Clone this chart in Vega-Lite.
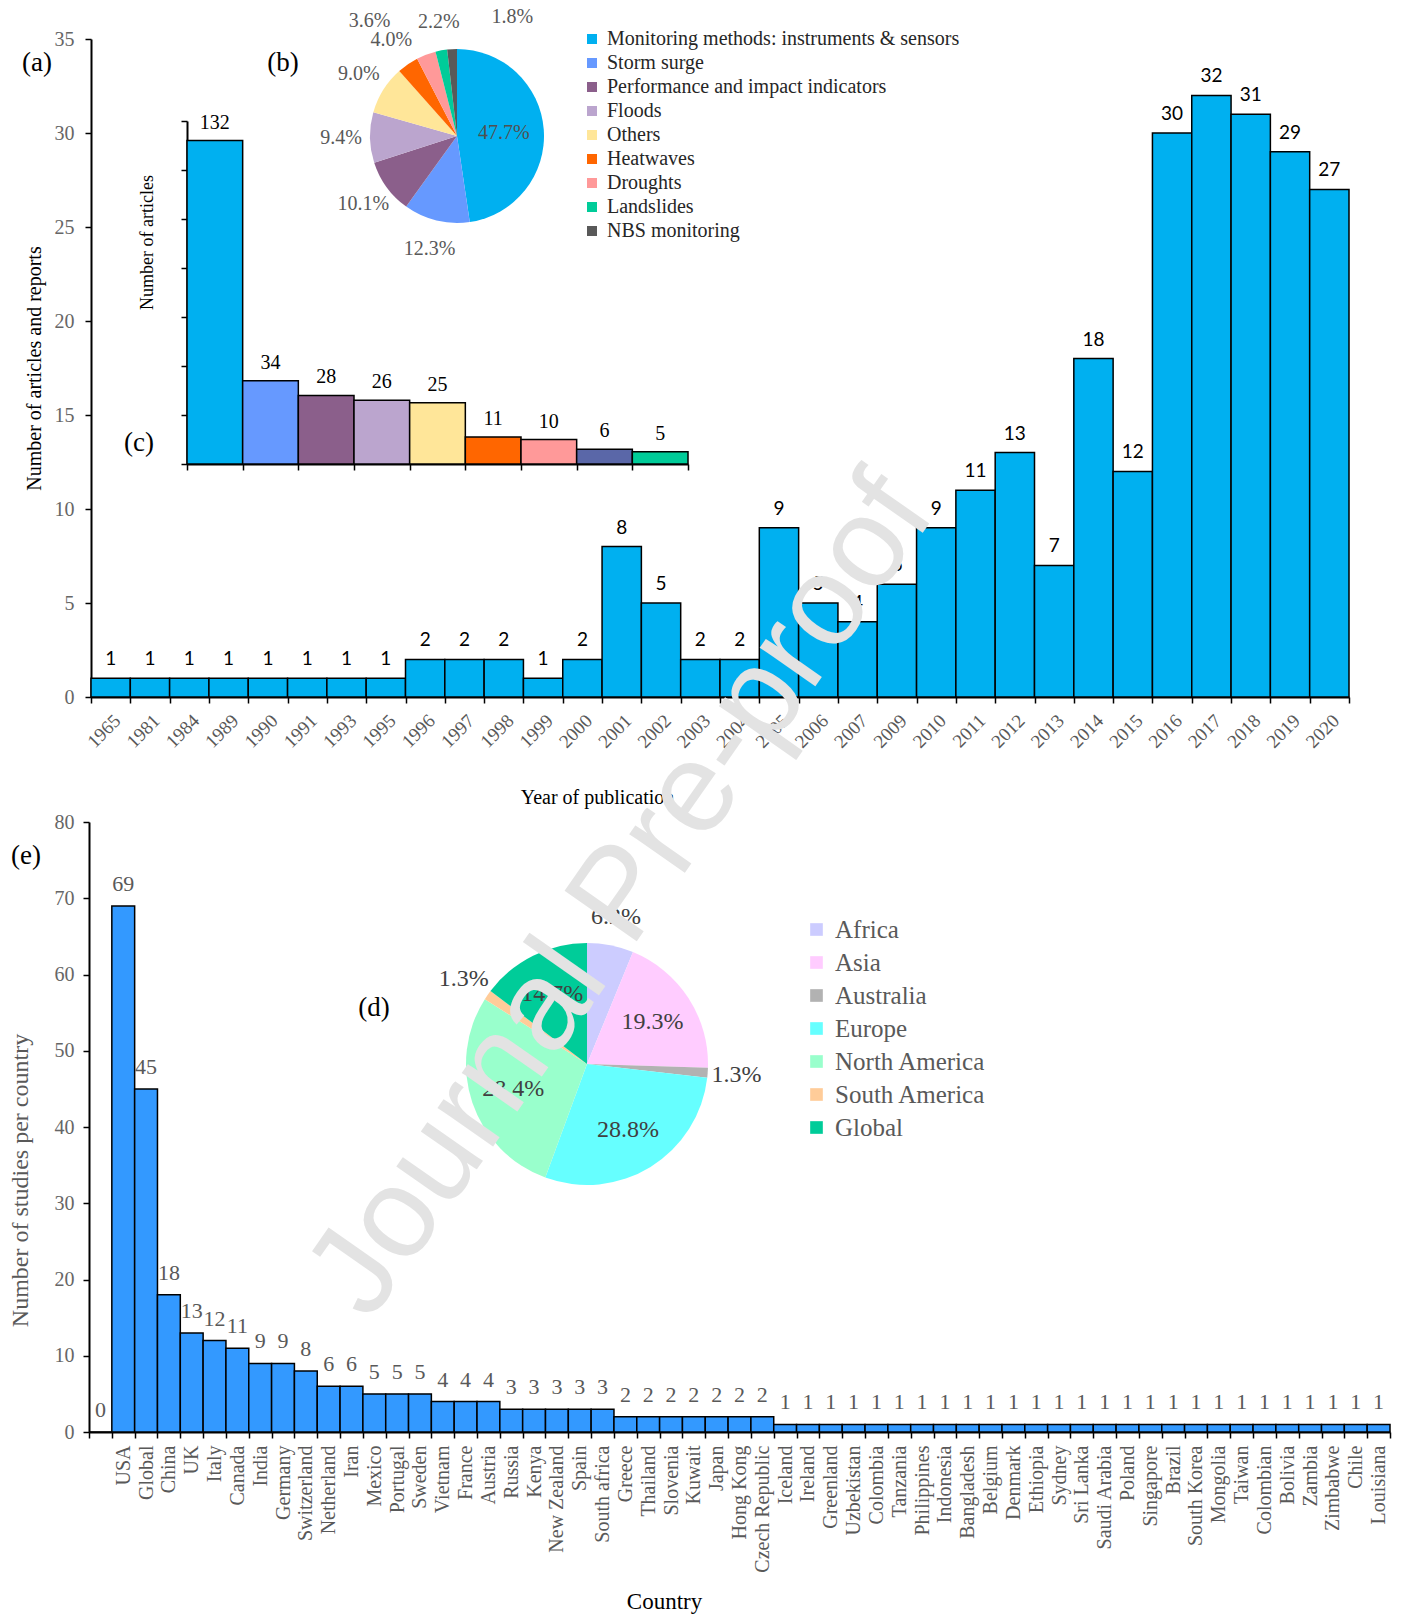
{
  "$schema": "https://vega.github.io/schema/vega-lite/v6.json",
  "width": 1405,
  "height": 1615,
  "autosize": {"type": "none"},
  "padding": 0,
  "background": "white",
  "config": {
    "view": {"stroke": null},
    "axis": {"domainColor": "#000000", "tickColor": "#000000", "labelFont": "Liberation Serif", "titleFont": "Liberation Serif", "titleFontWeight": "normal", "grid": false, "domainWidth": 2, "tickWidth": 1.5},
    "text": {"font": "Liberation Serif"}
  },
  "datasets": {
    "years": [
      {"year": "1965", "articles": 1}, {"year": "1981", "articles": 1}, {"year": "1984", "articles": 1}, {"year": "1989", "articles": 1},
      {"year": "1990", "articles": 1}, {"year": "1991", "articles": 1}, {"year": "1993", "articles": 1}, {"year": "1995", "articles": 1},
      {"year": "1996", "articles": 2}, {"year": "1997", "articles": 2}, {"year": "1998", "articles": 2}, {"year": "1999", "articles": 1},
      {"year": "2000", "articles": 2}, {"year": "2001", "articles": 8}, {"year": "2002", "articles": 5}, {"year": "2003", "articles": 2},
      {"year": "2004", "articles": 2}, {"year": "2005", "articles": 9}, {"year": "2006", "articles": 5}, {"year": "2007", "articles": 4},
      {"year": "2009", "articles": 6}, {"year": "2010", "articles": 9}, {"year": "2011", "articles": 11}, {"year": "2012", "articles": 13},
      {"year": "2013", "articles": 7}, {"year": "2014", "articles": 18}, {"year": "2015", "articles": 12}, {"year": "2016", "articles": 30},
      {"year": "2017", "articles": 32}, {"year": "2018", "articles": 31}, {"year": "2019", "articles": 29}, {"year": "2020", "articles": 27}
    ],
    "topics": [
      {"topic": "Monitoring methods: instruments & sensors", "articles": 132, "share": 0.477},
      {"topic": "Storm surge", "articles": 34, "share": 0.123},
      {"topic": "Performance and impact  indicators", "articles": 28, "share": 0.101},
      {"topic": "Floods", "articles": 26, "share": 0.094},
      {"topic": "Others", "articles": 25, "share": 0.090},
      {"topic": "Heatwaves", "articles": 11, "share": 0.040},
      {"topic": "Droughts", "articles": 10, "share": 0.036},
      {"topic": "Landslides", "articles": 6, "share": 0.022},
      {"topic": "NBS monitoring", "articles": 5, "share": 0.018}
    ],
    "countries": [
      {"country": "", "studies": 0}, {"country": "USA", "studies": 69}, {"country": "Global", "studies": 45}, {"country": "China", "studies": 18},
      {"country": "UK", "studies": 13}, {"country": "Italy", "studies": 12}, {"country": "Canada", "studies": 11}, {"country": "India", "studies": 9},
      {"country": "Germany", "studies": 9}, {"country": "Switzerland", "studies": 8}, {"country": "Netherland", "studies": 6}, {"country": "Iran", "studies": 6},
      {"country": "Mexico", "studies": 5}, {"country": "Portugal", "studies": 5}, {"country": "Sweden", "studies": 5}, {"country": "Vietnam", "studies": 4},
      {"country": "France", "studies": 4}, {"country": "Austria", "studies": 4}, {"country": "Russia", "studies": 3}, {"country": "Kenya", "studies": 3},
      {"country": "New Zealand", "studies": 3}, {"country": "Spain", "studies": 3}, {"country": "South africa", "studies": 3}, {"country": "Greece", "studies": 2},
      {"country": "Thailand", "studies": 2}, {"country": "Slovenia", "studies": 2}, {"country": "Kuwait", "studies": 2}, {"country": "Japan", "studies": 2},
      {"country": "Hong Kong", "studies": 2}, {"country": "Czech Republic", "studies": 2}, {"country": "Iceland", "studies": 1}, {"country": "Ireland", "studies": 1},
      {"country": "Greenland", "studies": 1}, {"country": "Uzbekistan", "studies": 1}, {"country": "Colombia", "studies": 1}, {"country": "Tanzania", "studies": 1},
      {"country": "Philippines", "studies": 1}, {"country": "Indonesia", "studies": 1}, {"country": "Bangladesh", "studies": 1}, {"country": "Belgium", "studies": 1},
      {"country": "Denmark", "studies": 1}, {"country": "Ethiopia", "studies": 1}, {"country": "Sydney", "studies": 1}, {"country": "Sri Lanka", "studies": 1},
      {"country": "Saudi Arabia", "studies": 1}, {"country": "Poland", "studies": 1}, {"country": "Singapore", "studies": 1}, {"country": "Brazil", "studies": 1},
      {"country": "South Korea", "studies": 1}, {"country": "Mongolia", "studies": 1}, {"country": "Taiwan", "studies": 1}, {"country": "Colombian", "studies": 1},
      {"country": "Bolivia", "studies": 1}, {"country": "Zambia", "studies": 1}, {"country": "Zimbabwe", "studies": 1}, {"country": "Chile", "studies": 1},
      {"country": "Louisiana", "studies": 1}
    ],
    "regions": [
      {"region": "Africa", "share": 0.062, "rank": 1},
      {"region": "Asia", "share": 0.193, "rank": 2},
      {"region": "Australia", "share": 0.013, "rank": 3},
      {"region": "Europe", "share": 0.288, "rank": 4},
      {"region": "North America", "share": 0.284, "rank": 5},
      {"region": "South America", "share": 0.013, "rank": 6},
      {"region": "Global", "share": 0.147, "rank": 7}
    ]
  },
  "layer": [
    {
      "data": {"name": "years"},
      "encoding": {
        "x": {"field": "year", "type": "ordinal", "sort": null,
          "scale": {"type": "band", "range": [91, 1349], "paddingInner": 0, "paddingOuter": 0},
          "axis": {"orient": "bottom", "offset": -918, "labelAngle": -45, "labelFontSize": 19, "labelColor": "#595959", "labelPadding": 8, "tickBand": "extent", "tickSize": 6, "labelOverlap": false, "title": "Year of publication", "titleFontSize": 20, "titleColor": "#000000", "titleX": 597, "titleY": 90}},
        "y": {"field": "articles", "type": "quantitative",
          "scale": {"domain": [0, 35], "range": [697, 39], "nice": false},
          "axis": {"orient": "left", "offset": -91, "values": [0, 5, 10, 15, 20, 25, 30, 35], "labelFontSize": 20, "labelColor": "#666666", "tickSize": 6, "labelPadding": 11, "title": "Number of articles and reports", "titleFontSize": 20, "titleColor": "#000000", "titlePadding": 10}}
      },
      "layer": [
        {"mark": {"type": "bar", "fill": "#00B0F0", "stroke": "#000000", "strokeWidth": 1.5}},
        {"mark": {"type": "text", "font": "Lato", "fontSize": 19, "color": "#000000", "baseline": "alphabetic", "dy": -13}, "encoding": {"text": {"field": "articles", "type": "quantitative"}}}
      ]
    },
    {
      "data": {"name": "topics"},
      "encoding": {
        "x": {"field": "topic", "type": "nominal", "sort": null,
          "scale": {"type": "band", "range": [187, 688], "paddingInner": 0, "paddingOuter": 0},
          "axis": {"orient": "bottom", "offset": -1151, "labels": false, "title": null, "tickBand": "extent", "tickSize": 6}},
        "y": {"field": "articles", "type": "quantitative",
          "scale": {"domain": [0, 140], "range": [464, 121], "nice": false},
          "axis": {"orient": "left", "offset": -187, "values": [0, 20, 40, 60, 80, 100, 120, 140], "labels": false, "tickSize": 6, "title": "Number of articles", "titleFontSize": 18, "titleColor": "#000000", "titlePadding": 24, "titleY": 242}}
      },
      "layer": [
        {"mark": {"type": "bar", "stroke": "#000000", "strokeWidth": 1.5},
         "encoding": {"color": {"field": "topic", "type": "nominal", "legend": null,
           "scale": {"domain": ["Monitoring methods: instruments & sensors", "Storm surge", "Performance and impact  indicators", "Floods", "Others", "Heatwaves", "Droughts", "Landslides", "NBS monitoring"],
                     "range": ["#00B0F0", "#6699FF", "#8B5F8B", "#BBA5CE", "#FFE699", "#FF6600", "#FF9999", "#5A67A8", "#00CC99"]}}}},
        {"mark": {"type": "text", "fontSize": 20, "color": "#000000", "baseline": "alphabetic", "dy": -12}, "encoding": {"text": {"field": "articles", "type": "quantitative"}}}
      ]
    },
    {
      "data": {"name": "topics"},
      "encoding": {
        "theta": {"field": "articles", "type": "quantitative", "stack": true},
        "order": {"field": "articles", "type": "quantitative", "sort": "descending"}
      },
      "layer": [
        {"mark": {"type": "arc", "x": 457, "y": 136, "outerRadius": 87},
         "encoding": {"color": {"field": "topic", "type": "nominal",
           "scale": {"domain": ["Monitoring methods: instruments & sensors", "Storm surge", "Performance and impact  indicators", "Floods", "Others", "Heatwaves", "Droughts", "Landslides", "NBS monitoring"],
                     "range": ["#00B0F0", "#6699FF", "#8B5F8B", "#BBA5CE", "#FFE699", "#FF6600", "#FF9999", "#00CC99", "#595959"]},
           "legend": {"orient": "none", "legendX": 582, "legendY": 29, "title": null, "symbolType": "square", "symbolSize": 100, "symbolStrokeWidth": 0, "labelFont": "Liberation Serif", "labelFontSize": 20, "labelColor": "#262626", "rowPadding": 4, "labelOffset": 5, "labelLimit": 600, "padding": 0}}}},
        {"mark": {"type": "text", "x": 457, "y": 136, "radius": 47, "fontSize": 20, "color": "#505050", "align": "center", "baseline": "middle"},
         "encoding": {"text": {"field": "share", "type": "quantitative", "format": ".1%", "condition": {"test": "datum.share < 0.2", "value": ""}}}},
        {"mark": {"type": "text", "x": 457, "y": 136, "radius": 116, "fontSize": 20, "color": "#595959", "align": "center", "baseline": "middle"},
         "encoding": {"text": {"field": "share", "type": "quantitative", "format": ".1%", "condition": {"test": "datum.share >= 0.2 || datum.share < 0.039", "value": ""}}}},
        {"mark": {"type": "text", "x": 457, "y": 136, "radius": 100, "dx": -52, "dy": -22, "fontSize": 20, "color": "#595959", "align": "center", "baseline": "middle"},
         "encoding": {"text": {"field": "share", "type": "quantitative", "format": ".1%", "condition": {"test": "datum.topic !== 'Droughts'", "value": ""}}}},
        {"mark": {"type": "text", "x": 457, "y": 136, "radius": 100, "dx": 0, "dy": -16, "fontSize": 20, "color": "#595959", "align": "center", "baseline": "middle"},
         "encoding": {"text": {"field": "share", "type": "quantitative", "format": ".1%", "condition": {"test": "datum.topic !== 'Landslides'", "value": ""}}}},
        {"mark": {"type": "text", "x": 457, "y": 136, "radius": 100, "dx": 61, "dy": -19, "fontSize": 20, "color": "#595959", "align": "center", "baseline": "middle"},
         "encoding": {"text": {"field": "share", "type": "quantitative", "format": ".1%", "condition": {"test": "datum.topic !== 'NBS monitoring'", "value": ""}}}}
      ]
    },
    {
      "data": {"name": "countries"},
      "encoding": {
        "x": {"field": "country", "type": "nominal", "sort": null,
          "scale": {"type": "band", "range": [89, 1390], "paddingInner": 0, "paddingOuter": 0},
          "axis": {"orient": "bottom", "offset": -183, "labelAngle": -90, "labelFontSize": 20, "labelColor": "#595959", "labelPadding": 7, "tickBand": "extent", "tickSize": 6, "labelOverlap": false, "title": "Country", "titleFontSize": 23, "titleColor": "#000000", "titleX": 664, "titleY": 158}},
        "y": {"field": "studies", "type": "quantitative",
          "scale": {"domain": [0, 80], "range": [1432, 822], "nice": false},
          "axis": {"orient": "left", "offset": -89, "values": [0, 10, 20, 30, 40, 50, 60, 70, 80], "labelFontSize": 20, "labelColor": "#666666", "tickSize": 6, "labelPadding": 9, "title": "Number of studies per country", "titleFontSize": 24, "titleColor": "#595959", "titlePadding": 22, "titleY": 1180}}
      },
      "layer": [
        {"mark": {"type": "bar", "fill": "#3399FF", "stroke": "#000000", "strokeWidth": 1.5}},
        {"mark": {"type": "text", "fontSize": 22, "color": "#595959", "baseline": "alphabetic", "dy": -15}, "encoding": {"text": {"field": "studies", "type": "quantitative"}}}
      ]
    },
    {
      "data": {"name": "regions"},
      "encoding": {
        "theta": {"field": "share", "type": "quantitative", "stack": true},
        "order": {"field": "rank", "type": "quantitative", "sort": "ascending"}
      },
      "layer": [
        {"mark": {"type": "arc", "x": 587, "y": 1064, "outerRadius": 121},
         "encoding": {"color": {"field": "region", "type": "nominal",
           "scale": {"domain": ["Africa", "Asia", "Australia", "Europe", "North America", "South America", "Global"],
                     "range": ["#CCCCFF", "#FFCCFF", "#B2B2B2", "#66FFFF", "#99FFCC", "#FFCC99", "#00CC99"]},
           "legend": {"orient": "none", "legendX": 804, "legendY": 917, "title": null, "symbolType": "square", "symbolSize": 160, "symbolStrokeWidth": 0, "labelFont": "Liberation Serif", "labelFontSize": 25, "labelColor": "#595959", "rowPadding": 7, "labelOffset": 6, "labelLimit": 600, "padding": 0}}}},
        {"mark": {"type": "text", "x": 587, "y": 1064, "radius": 78, "fontSize": 24, "color": "#404040", "align": "center", "baseline": "middle"},
         "encoding": {"text": {"field": "share", "type": "quantitative", "format": ".1%", "condition": {"test": "datum.share < 0.1", "value": ""}}}},
        {"mark": {"type": "text", "x": 587, "y": 1064, "radius": 150, "fontSize": 24, "color": "#404040", "align": "center", "baseline": "middle"},
         "encoding": {"text": {"field": "share", "type": "quantitative", "format": ".1%", "condition": {"test": "datum.share >= 0.1", "value": ""}}}}
      ]
    },
    {"data": {"values": [{}]}, "mark": {"type": "text", "text": "(a)", "x": 37, "y": 63, "fontSize": 27, "color": "#000000", "align": "center", "baseline": "middle"}, "encoding": {}},
    {"data": {"values": [{}]}, "mark": {"type": "text", "text": "(b)", "x": 283, "y": 63, "fontSize": 27, "color": "#000000", "align": "center", "baseline": "middle"}, "encoding": {}},
    {"data": {"values": [{}]}, "mark": {"type": "text", "text": "(c)", "x": 139, "y": 443, "fontSize": 27, "color": "#000000", "align": "center", "baseline": "middle"}, "encoding": {}},
    {"data": {"values": [{}]}, "mark": {"type": "text", "text": "(d)", "x": 374, "y": 1008, "fontSize": 27, "color": "#000000", "align": "center", "baseline": "middle"}, "encoding": {}},
    {"data": {"values": [{}]}, "mark": {"type": "text", "text": "(e)", "x": 26, "y": 856, "fontSize": 27, "color": "#000000", "align": "center", "baseline": "middle"}, "encoding": {}},
    {"data": {"values": [{}]}, "mark": {"type": "text", "text": "Journal Pre-proof", "x": 622, "y": 896, "angle": -55, "font": "Liberation Sans", "fontSize": 128, "color": "#E3E3E3", "align": "center", "baseline": "middle"}, "encoding": {}}
  ],
  "resolve": {
    "scale": {"x": "independent", "y": "independent", "color": "independent", "theta": "independent", "radius": "independent"},
    "axis": {"x": "independent", "y": "independent"},
    "legend": {"color": "independent"}
  }
}
